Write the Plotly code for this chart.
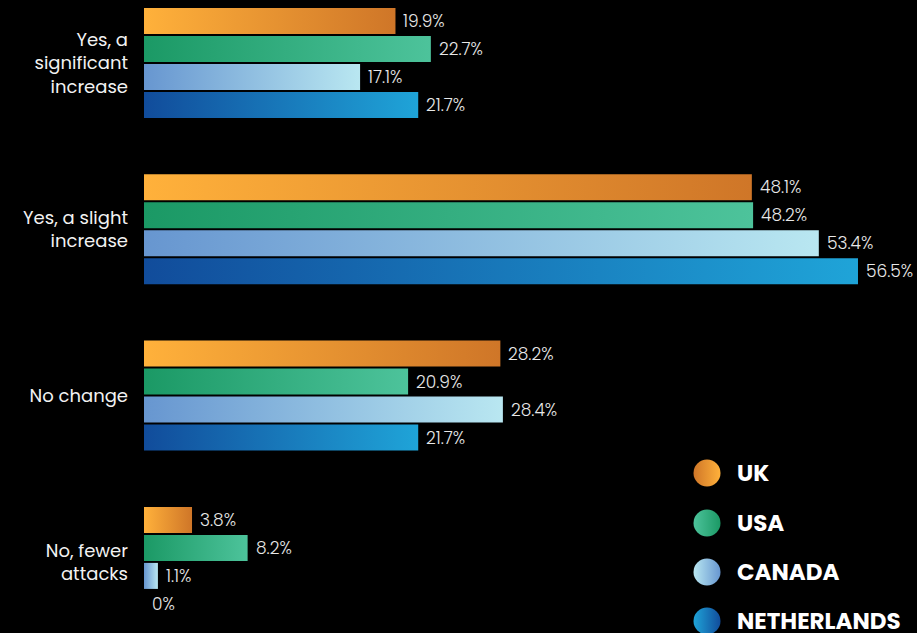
import plotly.graph_objects as go

# Survey answers (top to bottom) and the share per country, in percent
categories = ["Yes, a<br>significant<br>increase", "Yes, a slight<br>increase", "No change", "No, fewer<br>attacks"]
countries = ["UK", "USA", "CANADA", "NETHERLANDS"]
uk = [19.9, 48.1, 28.2, 3.8]
usa = [22.7, 48.2, 20.9, 8.2]
canada = [17.1, 53.4, 28.4, 1.1]
netherlands = [21.7, 56.5, 21.7, 0.0]
series = [uk, usa, canada, netherlands]

# Left/right gradient stops per country
gradients = [
    ("#ffb13b", "#cf7628"),
    ("#1b9965", "#4dc39b"),
    ("#6796d0", "#b9e7f1"),
    ("#114c9b", "#1fa4d8"),
]

BAR_PITCH = 0.1684   # distance between bars inside a group (group pitch = 1)
HALF_H = 0.0782      # half bar thickness

FONT = "Poppins, Inter, Lato, sans-serif"
fig = go.Figure()
annotations = []

for j, (name, vals, (c0, c1)) in enumerate(zip(countries, series, gradients)):
    for i, v in enumerate(vals):
        yc = i + (j - 1.5) * BAR_PITCH
        if v > 0:
            fig.add_trace(go.Scatter(
                x=[0, v, v, 0, 0],
                y=[yc - HALF_H, yc - HALF_H, yc + HALF_H, yc + HALF_H, yc - HALF_H],
                mode="lines", line=dict(width=0), fill="toself",
                fillgradient=dict(type="horizontal", start=0, stop=v,
                                  colorscale=[[0, c0], [1, c1]]),
                showlegend=False, hoverinfo="skip",
            ))
        annotations.append(dict(
            x=v, y=yc, xref="x", yref="y", text=f"{v:g}%",
            showarrow=False, xanchor="left", yanchor="middle", xshift=6,
            font=dict(family=FONT, size=17, color="#e8e8e8", weight=300),
        ))

# Custom legend: gradient dots with bold country names (pixel-like overlay axes)
legend_y = [473, 523, 572, 621]
for name, ly, (c0, c1) in zip(countries, legend_y, gradients):
    fig.add_trace(go.Scatter(
        x=[707], y=[ly], xaxis="x2", yaxis="y2", mode="markers",
        marker=dict(size=27, color=c1, line=dict(width=0),
                    gradient=dict(type="horizontal", color=c0)),
        showlegend=False, hoverinfo="skip",
    ))
    annotations.append(dict(
        x=735, y=ly, xref="x2", yref="y2", text=f"<b>{name}</b>",
        showarrow=False, xanchor="left", yanchor="middle",
        font=dict(family=FONT, size=23, color="#ffffff"),
    ))

fig.update_layout(
    width=917, height=633,
    margin=dict(l=144, r=0, t=0, b=0),
    paper_bgcolor="#000000", plot_bgcolor="#000000",
    showlegend=False,
    annotations=annotations,
    xaxis=dict(range=[0, 61.17], visible=False, fixedrange=True),
    yaxis=dict(
        range=[3.4275, -0.3788], tickvals=[0, 1, 2, 3], ticktext=categories,
        showgrid=False, zeroline=False, showline=False, ticks="",
        ticklabelstandoff=15,
        tickfont=dict(family=FONT, size=18, color="#f2f2f2"),
    ),
    xaxis2=dict(range=[144, 917], visible=False, overlaying="x", anchor="y2"),
    yaxis2=dict(range=[633, 0], visible=False, overlaying="y", anchor="x2"),
)

fig.write_html("out.html")
